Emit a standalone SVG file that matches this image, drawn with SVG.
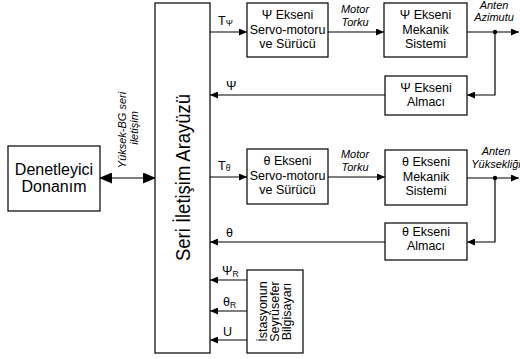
<svg xmlns="http://www.w3.org/2000/svg" width="520" height="359" viewBox="0 0 520 359">
  <defs>
    <marker id="arr" viewBox="0 0 8 7" markerWidth="8" markerHeight="7" refX="8" refY="3.5" orient="auto" markerUnits="userSpaceOnUse">
      <path d="M0,0 L8,3.5 L0,7 z" fill="#000"/>
    </marker>
    <marker id="big" viewBox="0 0 13 11" markerWidth="13" markerHeight="11" refX="12" refY="5.5" orient="auto-start-reverse" markerUnits="userSpaceOnUse">
      <path d="M0,0 L13,5.5 L0,11 z" fill="#000"/>
    </marker>
    <style>
      rect { fill: #fff; stroke: #000; stroke-width: 1.2; }
      .ln { fill: none; stroke: #000; stroke-width: 1.2; }
      text { font-family: "Liberation Sans", Arial, sans-serif; fill: #000; }
      .box { font-size: 12.5px; text-anchor: middle; }
      .it { font-size: 11px; font-style: italic; text-anchor: middle; }
      .sig { font-size: 12.5px; }
      .sub { font-size: 8.5px; }
      .nav { font-size: 12.5px; text-anchor: middle; }
    </style>
  </defs>

  <!-- connectors -->
  <g id="connectors">
    <line class="ln" x1="100" y1="178" x2="155" y2="178" stroke-width="3.2" marker-start="url(#big)" marker-end="url(#big)"/>
    <!-- azimuth loop -->
    <line class="ln" x1="210" y1="32" x2="247" y2="32" marker-end="url(#arr)"/>
    <line class="ln" x1="328" y1="32" x2="384" y2="32" marker-end="url(#arr)"/>
    <line class="ln" x1="467" y1="32" x2="519" y2="32" marker-end="url(#arr)"/>
    <path class="ln" d="M495,32 V95 H467" marker-end="url(#arr)"/>
    <line class="ln" x1="385" y1="95" x2="210" y2="95" marker-end="url(#arr)"/>
    <circle cx="495" cy="32" r="2.2" fill="#000"/>
    <!-- elevation loop -->
    <line class="ln" x1="210" y1="177" x2="247" y2="177" marker-end="url(#arr)"/>
    <line class="ln" x1="328" y1="177" x2="385" y2="177" marker-end="url(#arr)"/>
    <line class="ln" x1="467" y1="178" x2="519" y2="178" marker-end="url(#arr)"/>
    <path class="ln" d="M495,178 V242 H467" marker-end="url(#arr)"/>
    <line class="ln" x1="385" y1="242" x2="210" y2="242" marker-end="url(#arr)"/>
    <circle cx="495" cy="178" r="2.2" fill="#000"/>
    <!-- navigation computer inputs -->
    <line class="ln" x1="247" y1="280" x2="210" y2="280" marker-end="url(#arr)"/>
    <line class="ln" x1="247" y1="311" x2="210" y2="311" marker-end="url(#arr)"/>
    <line class="ln" x1="247" y1="340" x2="210" y2="340" marker-end="url(#arr)"/>

    <!-- connector labels -->
    <text class="sig" x="218" y="25">T<tspan class="sub" dy="1">Ψ</tspan></text>
    <text class="sig" x="226" y="90">Ψ</text>
    <text class="sig" x="218" y="170">T<tspan class="sub" dy="1">θ</tspan></text>
    <text class="sig" x="226" y="237">θ</text>
    <text class="sig" x="222" y="275">Ψ<tspan class="sub" dy="2">R</tspan></text>
    <text class="sig" x="223" y="306">θ<tspan class="sub" dy="2">R</tspan></text>
    <text class="sig" x="223" y="336">U</text>
    <text class="it" x="355" y="12.5">Motor</text>
    <text class="it" x="355" y="25.5">Torku</text>
    <text class="it" x="355" y="158">Motor</text>
    <text class="it" x="355" y="171">Torku</text>
    <text class="it" x="494" y="8.5">Anten</text>
    <text class="it" x="494" y="21">Azimutu</text>
    <text class="it" x="496" y="155">Anten</text>
    <text class="it" x="496" y="168">Yüksekliği</text>
    <text class="it" transform="translate(126,130) rotate(-90)">Yüksek-BG seri</text>
    <text class="it" transform="translate(137.5,128) rotate(-90)">iletişim</text>
  </g>

  <g id="interface">
    <rect x="155" y="3" width="55" height="350"/>
    <text transform="translate(189.5,177.5) rotate(-90)" font-size="21" text-anchor="middle" textLength="167" lengthAdjust="spacingAndGlyphs">Seri İletişim Arayüzü</text>
  </g>

  <g id="controller">
    <rect x="8" y="146" width="92" height="65"/>
    <text x="54" y="175" font-size="16" text-anchor="middle">Denetleyici</text>
    <text x="54" y="192" font-size="16" text-anchor="middle">Donanım</text>
  </g>

  <g id="psi-servo">
    <rect x="247" y="3" width="81" height="54"/>
    <text class="box" x="287.5" y="18.5">Ψ Ekseni</text>
    <text class="box" x="287.5" y="33.5">Servo-motoru</text>
    <text class="box" x="287.5" y="48">ve Sürücü</text>
  </g>

  <g id="psi-mech">
    <rect x="384" y="3" width="83" height="54"/>
    <text class="box" x="425.5" y="18.5">Ψ Ekseni</text>
    <text class="box" x="425.5" y="33.5">Mekanik</text>
    <text class="box" x="425.5" y="48">Sistemi</text>
  </g>

  <g id="psi-receiver">
    <rect x="385" y="76" width="82" height="39"/>
    <text class="box" x="426" y="91.5">Ψ Ekseni</text>
    <text class="box" x="426" y="106">Almacı</text>
  </g>

  <g id="theta-servo">
    <rect x="247" y="149" width="81" height="55"/>
    <text class="box" x="287.5" y="165">θ Ekseni</text>
    <text class="box" x="287.5" y="179.5">Servo-motoru</text>
    <text class="box" x="287.5" y="194">ve Sürücü</text>
  </g>

  <g id="theta-mech">
    <rect x="385" y="150" width="82" height="55"/>
    <text class="box" x="426" y="166">θ Ekseni</text>
    <text class="box" x="426" y="180.5">Mekanik</text>
    <text class="box" x="426" y="194.5">Sistemi</text>
  </g>

  <g id="theta-receiver">
    <rect x="385" y="223" width="82" height="37"/>
    <text class="box" x="426" y="236">θ Ekseni</text>
    <text class="box" x="426" y="250">Almacı</text>
  </g>

  <g id="nav-computer">
    <rect x="247" y="270" width="56" height="83"/>
    <text class="nav" transform="translate(266.5,311.5) rotate(-90)">İstasyonun</text>
    <text class="nav" transform="translate(278.5,311.5) rotate(-90)">Seyrüsefer</text>
    <text class="nav" transform="translate(290.5,311.5) rotate(-90)">Bilgisayarı</text>
  </g>
</svg>
